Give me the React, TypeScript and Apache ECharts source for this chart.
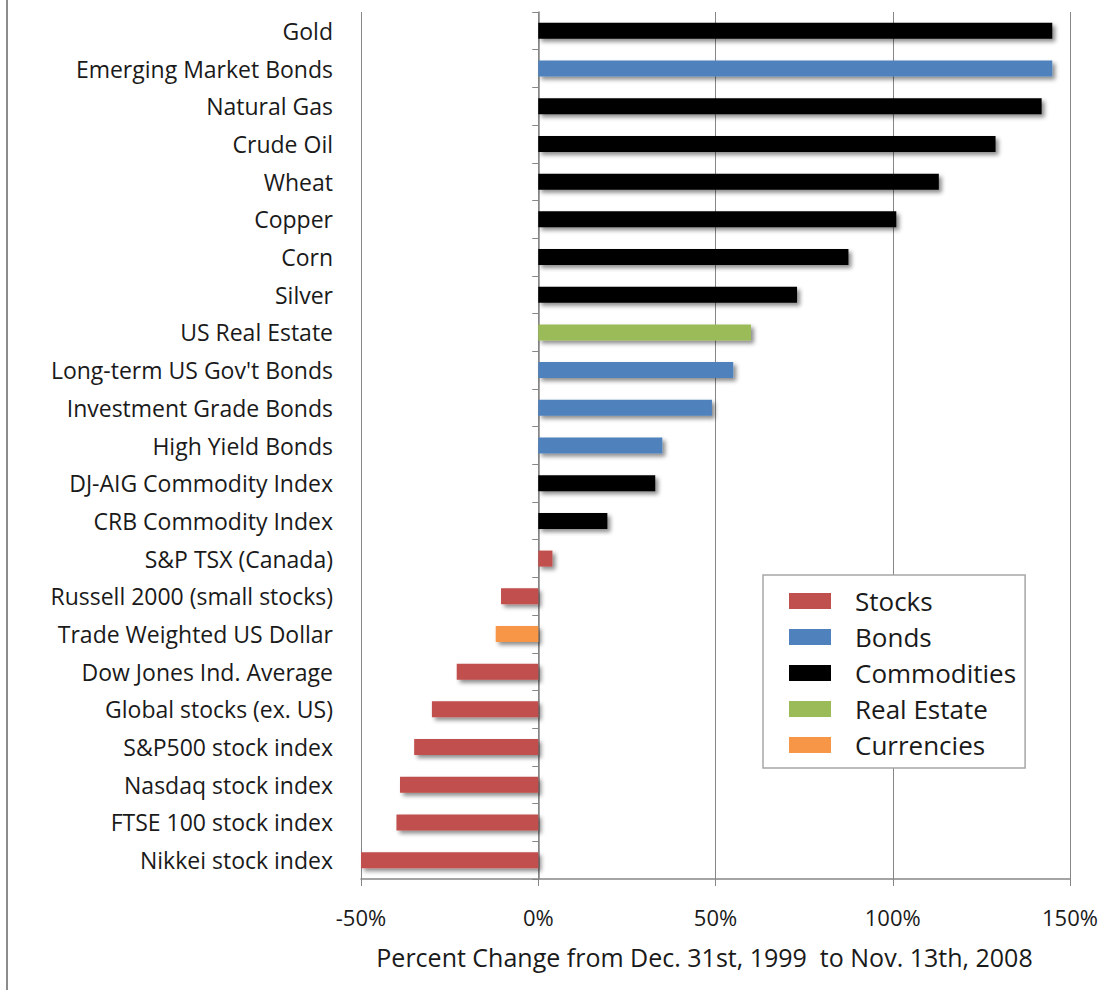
import React, { useEffect, useRef } from "react";
import * as echarts from "echarts";

const categories = [
  "Gold",
  "Emerging Market Bonds",
  "Natural Gas",
  "Crude Oil",
  "Wheat",
  "Copper",
  "Corn",
  "Silver",
  "US Real Estate",
  "Long-term US Gov't Bonds",
  "Investment Grade Bonds",
  "High Yield Bonds",
  "DJ-AIG Commodity Index",
  "CRB Commodity Index",
  "S&P TSX (Canada)",
  "Russell 2000 (small stocks)",
  "Trade Weighted US Dollar",
  "Dow Jones Ind. Average",
  "Global stocks (ex. US)",
  "S&P500 stock index",
  "Nasdaq stock index",
  "FTSE 100 stock index",
  "Nikkei stock index",
];

const values = [145, 145, 142, 129, 113, 101, 87.5, 73, 60, 55, 49, 35, 33, 19.5, 4, -10.5, -12, -23, -30, -35, -39, -40, -50];

const groups = ["C", "B", "C", "C", "C", "C", "C", "C", "R", "B", "B", "B", "C", "C", "S", "S", "F", "S", "S", "S", "S", "S", "S"];

const seriesDefs = [
  { key: "S", name: "Stocks", color: "#C0504D" },
  { key: "B", name: "Bonds", color: "#4F81BD" },
  { key: "C", name: "Commodities", color: "#000000" },
  { key: "R", name: "Real Estate", color: "#9BBB59" },
  { key: "F", name: "Currencies", color: "#F79646" },
];

const xTicks = [-50, 0, 50, 100, 150];

export default function App() {
  const ref = useRef<HTMLDivElement>(null);
  useEffect(() => {
    if (!ref.current) return;
    const chart = echarts.init(ref.current, undefined, { renderer: "svg" });
    const font = "'Open Sans', 'Noto Sans', sans-serif";
    chart.setOption({
      animation: false,
      backgroundColor: "#ffffff",
      textStyle: { fontFamily: font },
      grid: { left: 361, right: 44, top: 12, bottom: 111, containLabel: false },
      xAxis: {
        type: "value",
        min: xTicks[0],
        max: xTicks[xTicks.length - 1],
        interval: 50,
        axisLine: { show: true, onZero: false, lineStyle: { color: "#868686", width: 1.5 } },
        axisTick: { show: true, length: 7, lineStyle: { color: "#868686" } },
        splitLine: { show: true, lineStyle: { color: "#868686", width: 1 } },
        axisLabel: {
          formatter: (v: number) => `${v}%`,
          fontSize: 22,
          color: "#1a1a1a",
          margin: 27,
          fontFamily: font,
        },
        name: "Percent Change from Dec. 31st, 1999  to Nov. 13th, 2008",
        nameLocation: "middle",
        nameGap: 65,
        nameTextStyle: { fontSize: 25, color: "#1a1a1a", fontFamily: font, padding: [0, 22, 0, 0] },
      },
      yAxis: [
        {
          type: "category",
          data: categories,
          inverse: true,
          position: "left",
          axisLine: { show: true, onZero: true, lineStyle: { color: "#868686", width: 1.5 } },
          axisTick: { show: true, length: 6, lineStyle: { color: "#868686" } },
          axisLabel: { show: false },
          splitLine: { show: false },
        },
        {
          type: "category",
          data: categories,
          inverse: true,
          position: "left",
          axisLine: { show: false, onZero: false },
          axisTick: { show: false },
          axisLabel: { show: true, fontSize: 23, color: "#1a1a1a", margin: 28, fontFamily: font },
          splitLine: { show: false },
        },
      ],
      legend: {
        orient: "vertical",
        left: 763,
        top: 575,
        padding: [13, 9, 10, 26],
        itemWidth: 42,
        itemHeight: 16,
        itemGap: 10,
        itemStyle: { borderWidth: 0 },
        textStyle: { fontSize: 26, color: "#1a1a1a", fontFamily: font, padding: [0, 0, 0, 19] },
        borderColor: "#a6a6a6",
        borderWidth: 1.5,
        backgroundColor: "#ffffff",
        data: seriesDefs.map((s) => ({ name: s.name, icon: "rect" })),
      },
      series: seriesDefs.map((s) => ({
        name: s.name,
        type: "bar",
        stack: "all",
        yAxisIndex: 0,
        barWidth: 16,
        itemStyle: {
          color: s.color,
          shadowColor: "rgba(0,0,0,0.45)",
          shadowBlur: 4,
          shadowOffsetX: 3,
          shadowOffsetY: 3,
        },
        data: values.map((v, i) => (groups[i] === s.key ? v : "-")),
      })),
      graphic: [
        {
          type: "line",
          shape: { x1: 7, y1: 0, x2: 7, y2: 990 },
          style: { stroke: "#8c8c8c", lineWidth: 2 },
        },
      ],
    });
    return () => chart.dispose();
  }, []);
  return <div ref={ref} style={{ width: 1114, height: 990, position: "absolute", left: 0, top: 0 }} />;
}
